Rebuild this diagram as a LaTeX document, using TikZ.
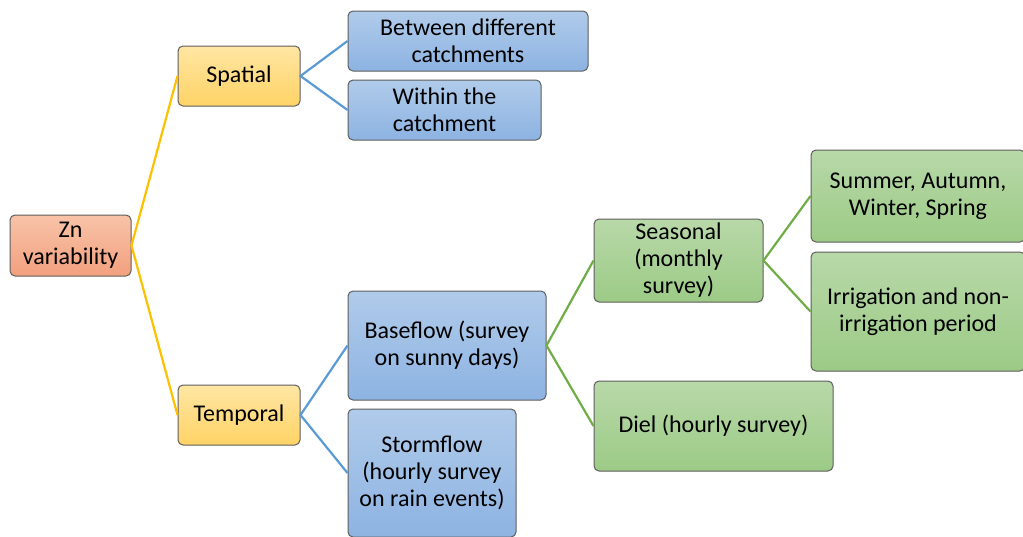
\documentclass[tikz,border=0pt]{standalone}
\usepackage{fontspec}
\setmainfont{Carlito}
\usepackage{xcolor}
\usetikzlibrary{positioning}
\definecolor{edge}{HTML}{5E5E5E}
\definecolor{zntop}{HTML}{F8C3A8}
\definecolor{znbot}{HTML}{F2A07E}
\definecolor{yeltop}{HTML}{FFE6A3}
\definecolor{yelbot}{HTML}{FFD366}
\definecolor{bluetop}{HTML}{B0CBEA}
\definecolor{bluebot}{HTML}{8DB3E2}
\definecolor{greentop}{HTML}{B8D8A8}
\definecolor{greenbot}{HTML}{9CCB86}
\definecolor{lnyel}{HTML}{FFC000}
\definecolor{lnblue}{HTML}{5B9BD5}
\definecolor{lngreen}{HTML}{70AD47}

\begin{document}
\begin{tikzpicture}[
  x=1pt, y=-1pt,
  font=\fontsize{24}{27}\selectfont,
  box/.style={draw=edge,line width=1pt,rounded corners=5pt,align=center,
              inner sep=2pt},
  root/.style={box,top color=zntop,bottom color=znbot},
  dim/.style={box,top color=yeltop,bottom color=yelbot},
  kind/.style={box,top color=bluetop,bottom color=bluebot},
  leaf/.style={box,top color=greentop,bottom color=greenbot},
  ly/.style={draw=lnyel,line width=2.2pt},
  lb/.style={draw=lnblue,line width=2.2pt},
  lg/.style={draw=lngreen,line width=2.2pt},
]
\useasboundingbox (0,0) rectangle (1023,536);

% --- level 0 ---------------------------------------------------------------
\node[root,minimum width=121pt,minimum height=61pt] (zn) at (70.5,245.5) {Zn\\variability};

% --- level 1 ---------------------------------------------------------------
\node[dim,minimum width=122pt,minimum height=60pt] (spat) at (239,76) {Spatial};
\node[dim,minimum width=122pt,minimum height=60pt] (temp) at (239,415) {Temporal};

% --- level 2 ---------------------------------------------------------------
\node[kind,minimum width=240pt,minimum height=60pt] (between) at (468,41) {Between different\\catchments};
\node[kind,minimum width=193pt,minimum height=60pt] (within)  at (444.5,110) {Within the\\catchment};
\node[kind,minimum width=198pt,minimum height=109pt] (base)   at (447,345.5) {Baseflow (survey\\on sunny days)};
\node[kind,minimum width=168pt,minimum height=128pt] (storm)  at (432,473) {Stormflow\\(hourly survey\\on rain events)};

% --- level 3 ---------------------------------------------------------------
\node[leaf,minimum width=169pt,minimum height=83pt] (season) at (678.5,260.5) {Seasonal\\(monthly\\survey)};
\node[leaf,minimum width=239pt,minimum height=90pt] (diel)   at (713.5,426) {Diel (hourly survey)};

% --- level 4 ---------------------------------------------------------------
\node[leaf,minimum width=214pt,minimum height=92pt] (sumr)  at (918,196) {Summer, Autumn,\\Winter, Spring};
\node[leaf,minimum width=214pt,minimum height=119pt] (irrig) at (918,311.5) {Irrigation and non-\\irrigation period};

% --- connectors ------------------------------------------------------------
\draw[ly] (spat.west) -- (zn.east) -- (temp.west);
\draw[lb] (between.west) -- (spat.east) -- (within.west);
\draw[lb] (base.west) -- (temp.east) -- (storm.west);
\draw[lg] (season.west) -- (base.east) -- (diel.west);
\draw[lg] (sumr.west) -- (season.east) -- (irrig.west);
\end{tikzpicture}
\end{document}
